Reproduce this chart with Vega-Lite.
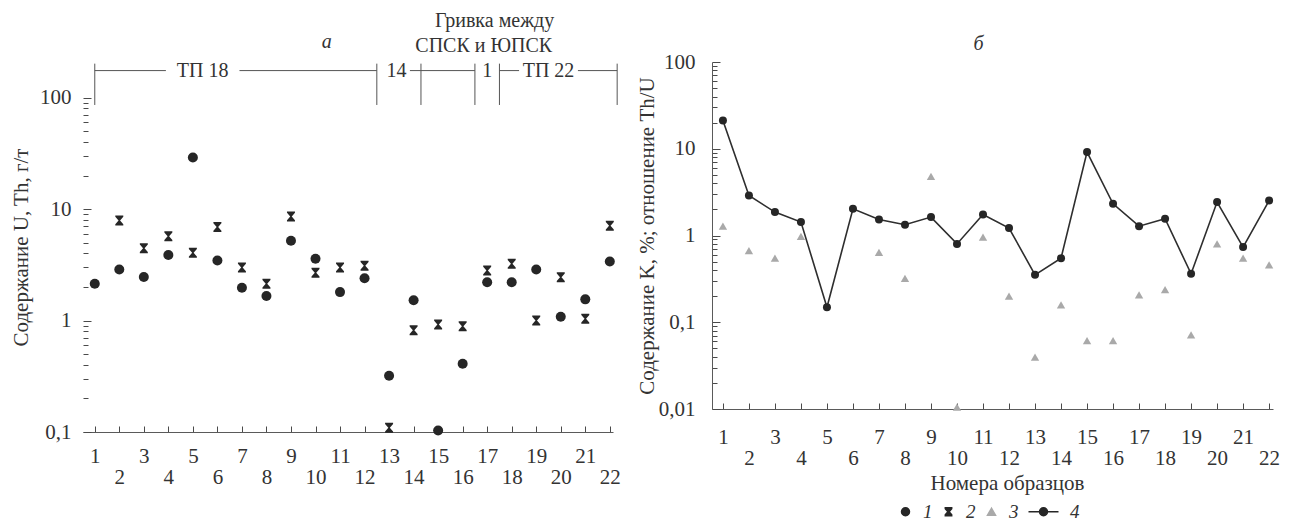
{
  "$schema": "https://vega.github.io/schema/vega-lite/v6.json",
  "background": "white",
  "padding": {"left": 10, "top": 10, "right": 5, "bottom": 3},
  "spacing": 15,
  "config": {
    "font": "Liberation Serif",
    "view": {"stroke": null},
    "axis": {
      "labelFont": "Liberation Serif",
      "labelFontSize": 21,
      "labelColor": "#333333",
      "titleFont": "Liberation Serif",
      "titleFontSize": 21,
      "titleFontWeight": "normal",
      "titleColor": "#333333",
      "domainColor": "#5a5a5a",
      "tickColor": "#4a4a4a",
      "tickWidth": 1,
      "grid": false,
      "labelFlush": false,
      "labelOverlap": false
    },
    "text": {"font": "Liberation Serif", "color": "#333333"}
  },
  "datasets": {
    "a": [
      {"sample": 1, "series": "1", "value": 2.14},
      {"sample": 2, "series": "1", "value": 2.87},
      {"sample": 3, "series": "1", "value": 2.46},
      {"sample": 4, "series": "1", "value": 3.88},
      {"sample": 5, "series": "1", "value": 29},
      {"sample": 6, "series": "1", "value": 3.46},
      {"sample": 7, "series": "1", "value": 1.97},
      {"sample": 8, "series": "1", "value": 1.66},
      {"sample": 9, "series": "1", "value": 5.2},
      {"sample": 10, "series": "1", "value": 3.58},
      {"sample": 11, "series": "1", "value": 1.8},
      {"sample": 12, "series": "1", "value": 2.4},
      {"sample": 13, "series": "1", "value": 0.32},
      {"sample": 14, "series": "1", "value": 1.52},
      {"sample": 15, "series": "1", "value": 0.103},
      {"sample": 16, "series": "1", "value": 0.41},
      {"sample": 17, "series": "1", "value": 2.21},
      {"sample": 18, "series": "1", "value": 2.21},
      {"sample": 19, "series": "1", "value": 2.87},
      {"sample": 20, "series": "1", "value": 1.08},
      {"sample": 21, "series": "1", "value": 1.55},
      {"sample": 22, "series": "1", "value": 3.39},
      {"sample": 2, "series": "2", "value": 7.9},
      {"sample": 3, "series": "2", "value": 4.46},
      {"sample": 4, "series": "2", "value": 5.7},
      {"sample": 5, "series": "2", "value": 4.05},
      {"sample": 6, "series": "2", "value": 6.9},
      {"sample": 7, "series": "2", "value": 3.0},
      {"sample": 8, "series": "2", "value": 2.14},
      {"sample": 9, "series": "2", "value": 8.6},
      {"sample": 10, "series": "2", "value": 2.68},
      {"sample": 11, "series": "2", "value": 3.0},
      {"sample": 12, "series": "2", "value": 3.1},
      {"sample": 13, "series": "2", "value": 0.109},
      {"sample": 14, "series": "2", "value": 0.82},
      {"sample": 15, "series": "2", "value": 0.92},
      {"sample": 16, "series": "2", "value": 0.89},
      {"sample": 17, "series": "2", "value": 2.81},
      {"sample": 18, "series": "2", "value": 3.23},
      {"sample": 19, "series": "2", "value": 1.0},
      {"sample": 20, "series": "2", "value": 2.45},
      {"sample": 21, "series": "2", "value": 1.04},
      {"sample": 22, "series": "2", "value": 7.1}
    ],
    "b": [
      {"sample": 1, "series": "3", "value": 1.28},
      {"sample": 2, "series": "3", "value": 0.67},
      {"sample": 3, "series": "3", "value": 0.55},
      {"sample": 4, "series": "3", "value": 0.98},
      {"sample": 7, "series": "3", "value": 0.64},
      {"sample": 8, "series": "3", "value": 0.32},
      {"sample": 9, "series": "3", "value": 4.8},
      {"sample": 10, "series": "3", "value": 0.0105},
      {"sample": 11, "series": "3", "value": 0.96},
      {"sample": 12, "series": "3", "value": 0.2},
      {"sample": 13, "series": "3", "value": 0.0395},
      {"sample": 14, "series": "3", "value": 0.159},
      {"sample": 15, "series": "3", "value": 0.0615},
      {"sample": 16, "series": "3", "value": 0.0615},
      {"sample": 17, "series": "3", "value": 0.207},
      {"sample": 18, "series": "3", "value": 0.238},
      {"sample": 19, "series": "3", "value": 0.0716},
      {"sample": 20, "series": "3", "value": 0.8},
      {"sample": 21, "series": "3", "value": 0.55},
      {"sample": 22, "series": "3", "value": 0.46},
      {"sample": 1, "series": "4", "value": 21.2},
      {"sample": 2, "series": "4", "value": 2.89},
      {"sample": 3, "series": "4", "value": 1.86},
      {"sample": 4, "series": "4", "value": 1.43},
      {"sample": 5, "series": "4", "value": 0.149},
      {"sample": 6, "series": "4", "value": 2.03},
      {"sample": 7, "series": "4", "value": 1.53},
      {"sample": 8, "series": "4", "value": 1.33},
      {"sample": 9, "series": "4", "value": 1.63},
      {"sample": 10, "series": "4", "value": 0.8},
      {"sample": 11, "series": "4", "value": 1.75},
      {"sample": 12, "series": "4", "value": 1.22},
      {"sample": 13, "series": "4", "value": 0.352},
      {"sample": 14, "series": "4", "value": 0.548},
      {"sample": 15, "series": "4", "value": 9.16},
      {"sample": 16, "series": "4", "value": 2.32},
      {"sample": 17, "series": "4", "value": 1.28},
      {"sample": 18, "series": "4", "value": 1.56},
      {"sample": 19, "series": "4", "value": 0.362},
      {"sample": 20, "series": "4", "value": 2.43},
      {"sample": 21, "series": "4", "value": 0.735},
      {"sample": 22, "series": "4", "value": 2.53}
    ],
    "segments": [
      {"x1": 1.0, "x2": 3.9},
      {"x1": 6.9, "x2": 12.5},
      {"x1": 13.85, "x2": 14.3},
      {"x1": 14.3, "x2": 16.5},
      {"x1": 17.5, "x2": 18.3},
      {"x1": 20.7, "x2": 22.3}
    ],
    "bars": [
      {"x": 1.0}, {"x": 12.5}, {"x": 14.3}, {"x": 16.5}, {"x": 17.5}, {"x": 22.3}
    ],
    "zones": [
      {"x": 5.4, "label": "ТП 18"},
      {"x": 13.3, "label": "14"},
      {"x": 17.0, "label": "1"},
      {"x": 19.5, "label": "ТП 22"}
    ],
    "notesA": [
      {"x": 17.3, "y": 490, "label": "Гривка между", "italic": false},
      {"x": 16.86, "y": 292, "label": "СПСК и ЮПСК", "italic": false},
      {"x": 10.46, "y": 318, "label": "а", "italic": true}
    ],
    "notesB": [
      {"x": 10.83, "y": 163, "label": "б"}
    ]
  },
  "resolve": {"scale": {"x": "independent", "y": "independent"}},
  "hconcat": [
    {
      "width": 530,
      "height": 370,
      "layer": [
        {
          "data": {"name": "a"},
          "transform": [{"filter": "datum.series == '1'"}],
          "mark": {"type": "point", "filled": true, "shape": "circle", "size": 100, "color": "#262626", "opacity": 1},
          "encoding": {
            "x": {
              "field": "sample", "type": "quantitative",
              "scale": {"domain": [0.52, 22.13], "nice": false, "zero": false},
              "axis": {
                "title": null,
                "values": [1,2,3,4,5,6,7,8,9,10,11,12,13,14,15,16,17,18,19,20,21,22],
                "tickCount": 100,
                "format": "d",
                "tickSize": -6,
                "labelOverlap": false,
                "labelFlush": false,
                "labelExpr": "datum.value % 2 == 0 ? ['', datum.label] : datum.label",
                "labelLineHeight": 21,
                "labelPadding": 19
              }
            },
            "y": {
              "field": "value", "type": "quantitative",
              "scale": {"type": "log", "domain": [0.1, 209], "nice": false},
              "axis": {
                "title": "Содержание U, Th, г/т",
                "titlePadding": 8,
                "domain": false,
                "labelOverlap": false,
                "tickCount": 100,
                "values": [0.1,0.2,0.3,0.4,0.5,0.6,0.7,0.8,0.9,1,2,3,4,5,6,7,8,9,10,20,30,40,50,60,70,80,90,100],
                "labelExpr": "datum.value == 0.1 ? '0,1' : datum.value == 1 ? '1' : datum.value == 10 ? '10' : datum.value == 100 ? '100' : ''",
                "tickSize": {"condition": {"test": "indexof([0.1, 1, 10, 100], datum.value) >= 0", "value": -8}, "value": -5},
                "labelPadding": 20
              }
            }
          }
        },
        {
          "data": {"name": "a"},
          "transform": [{"filter": "datum.series == '2'"}],
          "mark": {"type": "point", "filled": true, "shape": "M-0.8,-1H0.8V-0.75L0.15,0L0.8,0.75V1H-0.8V0.75L-0.15,0L-0.8,-0.75Z", "size": 100, "color": "#262626", "opacity": 1},
          "encoding": {
            "x": {"field": "sample", "type": "quantitative"},
            "y": {"field": "value", "type": "quantitative"}
          }
        },
        {
          "mark": {"type": "rule", "color": "#5a5a5a", "strokeWidth": 1},
          "encoding": {
            "x": {"datum": 0.52, "type": "quantitative"},
            "y": {"datum": 0.1, "type": "quantitative"},
            "y2": {"datum": 100}
          }
        },
        {
          "data": {"name": "segments"},
          "mark": {"type": "rule", "color": "#555555", "strokeWidth": 1},
          "encoding": {
            "x": {"field": "x1", "type": "quantitative"},
            "x2": {"field": "x2"},
            "y": {"datum": 175, "type": "quantitative"}
          }
        },
        {
          "data": {"name": "bars"},
          "mark": {"type": "rule", "color": "#555555", "strokeWidth": 1},
          "encoding": {
            "x": {"field": "x", "type": "quantitative"},
            "y": {"datum": 202, "type": "quantitative"},
            "y2": {"datum": 86}
          }
        },
        {
          "data": {"name": "zones"},
          "mark": {"type": "text", "fontSize": 20, "baseline": "middle", "align": "center", "color": "#333333"},
          "encoding": {
            "x": {"field": "x", "type": "quantitative"},
            "y": {"datum": 175, "type": "quantitative"},
            "text": {"field": "label"}
          }
        },
        {
          "data": {"name": "notesA"},
          "transform": [{"filter": "!datum.italic"}],
          "mark": {"type": "text", "fontSize": 20, "baseline": "middle", "align": "center", "color": "#333333"},
          "encoding": {
            "x": {"field": "x", "type": "quantitative"},
            "y": {"field": "y", "type": "quantitative"},
            "text": {"field": "label"}
          }
        },
        {
          "data": {"name": "notesA"},
          "transform": [{"filter": "datum.italic"}],
          "mark": {"type": "text", "fontSize": 20, "fontStyle": "italic", "baseline": "middle", "align": "center", "color": "#333333"},
          "encoding": {
            "x": {"field": "x", "type": "quantitative"},
            "y": {"field": "y", "type": "quantitative"},
            "text": {"field": "label"}
          }
        }
      ]
    },
    {
      "width": 561,
      "height": 347,
      "layer": [
        {
          "data": {"name": "b"},
          "transform": [{"filter": "datum.series == '4'"}],
          "mark": {"type": "line", "color": "#2e2e2e", "strokeWidth": 1.6},
          "encoding": {
            "x": {
              "field": "sample", "type": "quantitative",
              "scale": {"domain": [0.58, 22.15], "nice": false, "zero": false},
              "axis": {
                "title": "Номера образцов",
                "titlePadding": 4,
                "titleX": 295,
                "values": [1,2,3,4,5,6,7,8,9,10,11,12,13,14,15,16,17,18,19,20,21,22],
                "tickCount": 100,
                "format": "d",
                "tickSize": -6,
                "labelOverlap": false,
                "labelFlush": false,
                "labelExpr": "datum.value % 2 == 0 ? ['', datum.label] : datum.label",
                "labelLineHeight": 21,
                "labelPadding": 23
              }
            },
            "y": {
              "field": "value", "type": "quantitative",
              "scale": {"type": "log", "domain": [0.01, 100], "nice": false},
              "axis": {
                "title": "Содержание K, %; отношение Th/U",
                "titlePadding": 1,
                "labelOverlap": false,
                "tickCount": 100,
                "values": [0.01,0.02,0.03,0.04,0.05,0.06,0.07,0.08,0.09,0.1,0.2,0.3,0.4,0.5,0.6,0.7,0.8,0.9,1,2,3,4,5,6,7,8,9,10,20,30,40,50,60,70,80,90,100],
                "labelExpr": "datum.value == 0.01 ? '0,01' : datum.value == 0.1 ? '0,1' : datum.value == 1 ? '1' : datum.value == 10 ? '10' : datum.value == 100 ? '100' : ''",
                "tickSize": {"condition": {"test": "indexof([0.01, 0.1, 1, 10, 100], datum.value) >= 0", "value": -8}, "value": -5},
                "labelPadding": 25
              }
            }
          }
        },
        {
          "data": {"name": "b"},
          "transform": [{"filter": "datum.series == '4'"}],
          "mark": {"type": "point", "filled": true, "shape": "circle", "size": 64, "color": "#262626", "opacity": 1},
          "encoding": {
            "x": {"field": "sample", "type": "quantitative"},
            "y": {"field": "value", "type": "quantitative"}
          }
        },
        {
          "data": {"name": "b"},
          "transform": [{"filter": "datum.series == '3'"}],
          "mark": {"type": "point", "filled": true, "size": 70, "opacity": 1, "strokeWidth": 0},
          "encoding": {
            "x": {"field": "sample", "type": "quantitative"},
            "y": {"field": "value", "type": "quantitative"},
            "shape": {
              "field": "series", "type": "nominal",
              "scale": {"domain": ["1", "2", "3", "4"], "range": ["circle", "M-0.8,-1H0.8V-0.75L0.15,0L0.8,0.75V1H-0.8V0.75L-0.15,0L-0.8,-0.75Z", "triangle-up", "M-6,0H1.5M-3.25,0A1,1 0 1,0 -1.25,0A1,1 0 1,0 -3.25,0Z"]},
              "legend": {"title": null, "orient": "none", "legendX": 813, "legendY": 440, "direction": "horizontal", "symbolSize": 64, "labelFontSize": 19, "labelFont": "Liberation Serif", "labelFontStyle": "italic", "labelColor": "#333333", "labelOffset": 8, "columnPadding": 6, "padding": 0, "symbolStrokeWidth": 1.5}
            },
            "fill": {
              "field": "series", "type": "nominal",
              "scale": {"domain": ["1", "2", "3", "4"], "range": ["#262626", "#262626", "#a9a9a9", "#262626"]},
              "legend": {"title": null, "orient": "none", "legendX": 813, "legendY": 440, "direction": "horizontal", "symbolSize": 64, "labelFontSize": 19, "labelFont": "Liberation Serif", "labelFontStyle": "italic", "labelColor": "#333333", "labelOffset": 8, "columnPadding": 6, "padding": 0, "symbolStrokeWidth": 1.5}
            },
            "stroke": {
              "field": "series", "type": "nominal",
              "scale": {"domain": ["1", "2", "3", "4"], "range": ["#262626", "#262626", "#a9a9a9", "#262626"]},
              "legend": {"title": null, "orient": "none", "legendX": 813, "legendY": 440, "direction": "horizontal", "symbolSize": 64, "labelFontSize": 19, "labelFont": "Liberation Serif", "labelFontStyle": "italic", "labelColor": "#333333", "labelOffset": 8, "columnPadding": 6, "padding": 0, "symbolStrokeWidth": 1.5}
            }
          }
        },
        {
          "data": {"name": "notesB"},
          "mark": {"type": "text", "fontSize": 20, "fontStyle": "italic", "baseline": "middle", "align": "center", "color": "#333333"},
          "encoding": {
            "x": {"field": "x", "type": "quantitative"},
            "y": {"field": "y", "type": "quantitative"},
            "text": {"field": "label"}
          }
        }
      ]
    }
  ]
}
